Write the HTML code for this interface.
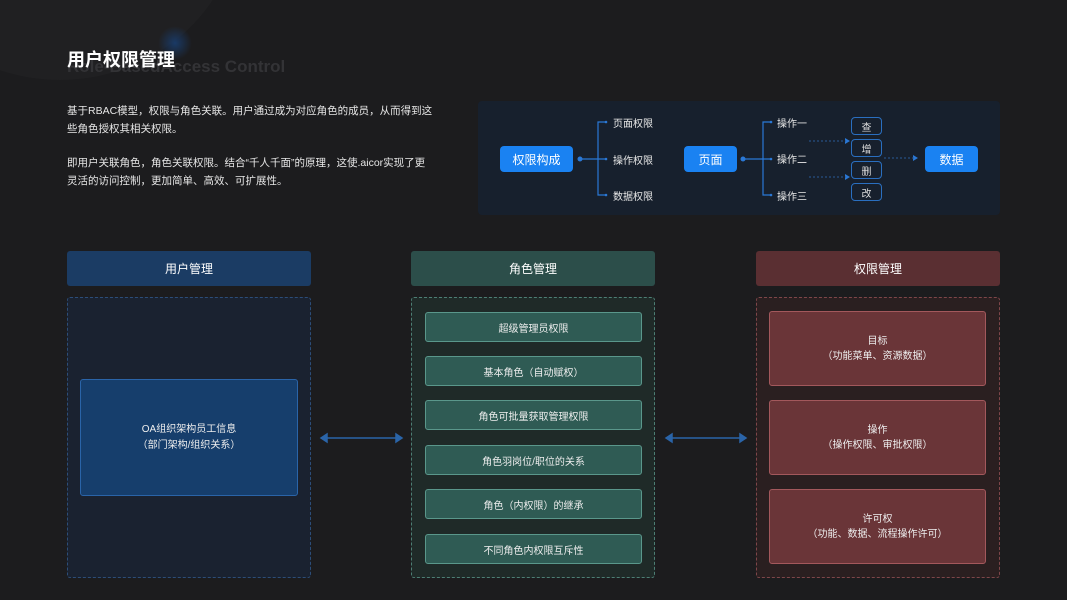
<!DOCTYPE html>
<html><head><meta charset="utf-8"><style>
*{margin:0;padding:0;box-sizing:border-box}
body{width:1067px;height:600px;background:#1c1c1e;position:relative;overflow:hidden;font-family:"Liberation Sans","Noto Sans CJK SC",sans-serif;color:#fff}
.a{position:absolute}
.c{display:flex;align-items:center;justify-content:center;text-align:center}
.btn{background:#1a82f2;border-radius:4px;font-size:12px;color:#fff}
.lbl{font-size:10px;color:#e8e8e8}
.sb{border:1px solid #2a6fc0;border-radius:4px;font-size:10px;color:#ddd;width:31px;height:18px;left:851px}
.gi{left:425px;width:217px;height:30px;background:#2f5b54;border:1px solid #5a978b;border-radius:3px;font-size:10px;color:#eee}
.ri{left:769px;width:217px;height:75px;background:#6a3538;border:1px solid #a3585c;border-radius:3px;font-size:10px;color:#eee;line-height:15px}
</style></head><body>
<div class="a" style="left:-120px;top:-260px;width:360px;height:340px;border-radius:50%;background:#202022"></div>
<div class="a" style="left:158px;top:26px;width:34px;height:34px;border-radius:50%;background:radial-gradient(#1a3a66,transparent 70%)"></div>
<div class="a" style="left:67px;top:57px;font-size:17px;font-weight:bold;color:#333336;white-space:nowrap">Role-BasedAccess Control</div>
<div class="a" style="left:67px;top:46px;font-size:18px;font-weight:bold;color:#fff">用户权限管理</div>
<div class="a" style="left:67px;top:102px;width:372px;font-size:10.5px;line-height:18px;color:#e6e6e6">基于RBAC模型，权限与角色关联。用户通过成为对应角色的成员，从而得到这些角色授权其相关权限。</div>
<div class="a" style="left:67px;top:154px;width:362px;font-size:10.5px;line-height:18px;color:#e6e6e6">即用户关联角色，角色关联权限。结合“千人千面”的原理，这使.aicor实现了更灵活的访问控制，更加简单、高效、可扩展性。</div>

<div class="a" style="left:478px;top:101px;width:522px;height:114px;background:#17202d;border-radius:4px"></div>
<svg class="a" style="left:0;top:0" width="1067" height="600">
<g stroke="#2a78d6" stroke-width="1.2" fill="none">
<line x1="580" y1="159" x2="598" y2="159"/><path d="M605 122H598V195H605M598 159H605"/>
<line x1="743" y1="159" x2="763" y2="159"/><path d="M770 122H763V195H770M763 159H770"/>
</g>
<g fill="#2a78d6"><circle cx="580" cy="159" r="2.5"/><circle cx="743" cy="159" r="2.5"/>
<circle cx="606" cy="122" r="1.3"/><circle cx="606" cy="159" r="1.3"/><circle cx="606" cy="195" r="1.3"/>
<circle cx="771" cy="122" r="1.3"/><circle cx="771" cy="159" r="1.3"/><circle cx="771" cy="195" r="1.3"/>
<path d="M845 138l5 3-5 3z M845 174l5 3-5 3z M913 155l5 3-5 3z"/></g>
<g stroke="#2a5a98" stroke-dasharray="2 2"><line x1="809" y1="141" x2="846" y2="141"/><line x1="809" y1="177" x2="846" y2="177"/><line x1="884" y1="158" x2="914" y2="158"/></g>
<g stroke="#2a64a8" stroke-width="1.5" fill="#2a64a8"><line x1="325" y1="438" x2="398" y2="438"/><path d="M321 438l6-4v8z M402 438l-6-4v8z"/>
<line x1="670" y1="438" x2="742" y2="438"/><path d="M666 438l6-4v8z M746 438l-6-4v8z"/></g>
</svg>
<div class="a c btn" style="left:500px;top:146px;width:73px;height:26px">权限构成</div>
<div class="a c btn" style="left:684px;top:146px;width:53px;height:26px">页面</div>
<div class="a c btn" style="left:925px;top:146px;width:53px;height:26px">数据</div>
<div class="a lbl" style="left:613px;top:115px">页面权限</div>
<div class="a lbl" style="left:613px;top:152px">操作权限</div>
<div class="a lbl" style="left:613px;top:188px">数据权限</div>
<div class="a lbl" style="left:777px;top:115px">操作一</div>
<div class="a lbl" style="left:777px;top:151px">操作二</div>
<div class="a lbl" style="left:777px;top:188px">操作三</div>
<div class="a c sb" style="top:117px">查</div>
<div class="a c sb" style="top:139px">增</div>
<div class="a c sb" style="top:161px">删</div>
<div class="a c sb" style="top:183px">改</div>

<div class="a c" style="left:67px;top:251px;width:244px;height:35px;background:#1b3c64;border-radius:3px;font-size:12px">用户管理</div>
<div class="a c" style="left:411px;top:251px;width:244px;height:35px;background:#2c4e4a;border-radius:3px;font-size:12px">角色管理</div>
<div class="a c" style="left:756px;top:251px;width:244px;height:35px;background:#5a2f32;border-radius:3px;font-size:12px">权限管理</div>

<div class="a" style="left:67px;top:297px;width:244px;height:281px;background:#1a2230;border:1px dashed #2c4d78;border-radius:3px"></div>
<div class="a" style="left:411px;top:297px;width:244px;height:281px;background:#1f2a28;border:1px dashed #4d7e74;border-radius:3px"></div>
<div class="a" style="left:756px;top:297px;width:244px;height:281px;background:#2a1f20;border:1px dashed #7e4649;border-radius:3px"></div>

<div class="a c" style="left:80px;top:379px;width:218px;height:117px;background:#163e6c;border:1px solid #2a64a8;border-radius:3px;font-size:10px;line-height:16px;color:#eee">OA组织架构员工信息<br>（部门架构/组织关系）</div>

<div class="a c gi" style="top:312px">超级管理员权限</div>
<div class="a c gi" style="top:356px">基本角色（自动赋权）</div>
<div class="a c gi" style="top:400px">角色可批量获取管理权限</div>
<div class="a c gi" style="top:445px">角色羽岗位/职位的关系</div>
<div class="a c gi" style="top:489px">角色（内权限）的继承</div>
<div class="a c gi" style="top:534px">不同角色内权限互斥性</div>

<div class="a c ri" style="top:311px">目标<br>（功能菜单、资源数据）</div>
<div class="a c ri" style="top:400px">操作<br>（操作权限、审批权限）</div>
<div class="a c ri" style="top:489px">许可权<br>（功能、数据、流程操作许可）</div>
</body></html>
